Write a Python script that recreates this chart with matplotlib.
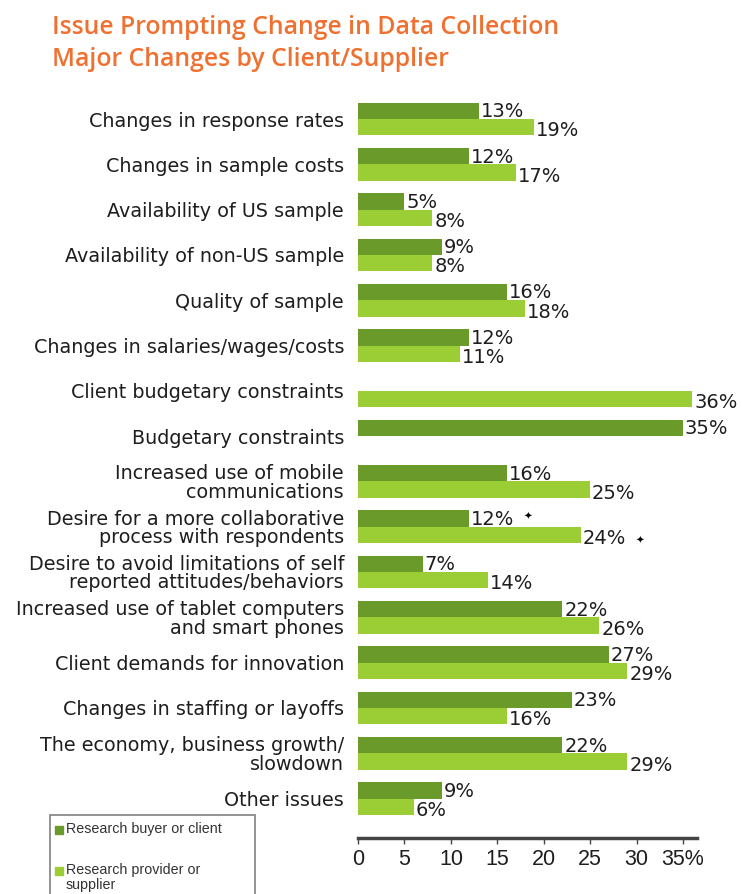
import numpy as np
import matplotlib
matplotlib.use("Agg")
import matplotlib.pyplot as plt
from matplotlib.patches import Rectangle

# data
categories = [
    "Changes in response rates",
    "Changes in sample costs",
    "Availability of US sample",
    "Availability of non-US sample",
    "Quality of sample",
    "Changes in salaries/wages/costs",
    "Client budgetary constraints",
    "Budgetary constraints",
    "Increased use of mobile\ncommunications",
    "Desire for a more collaborative\nprocess with respondents",
    "Desire to avoid limitations of self\nreported attitudes/behaviors",
    "Increased use of tablet computers\nand smart phones",
    "Client demands for innovation",
    "Changes in staffing or layoffs",
    "The economy, business growth/\nslowdown",
    "Other issues",
]
buyer = [13, 12, 5, 9, 16, 12, np.nan, 35, 16, 12, 7, 22, 27, 23, 22, 9]
provider = [19, 17, 8, 8, 18, 11, 36, np.nan, 25, 24, 14, 26, 29, 16, 29, 6]
starred = [9]  # rows with the little star after the value
xticks = [0, 5, 10, 15, 20, 25, 30, 35]
xtick_labels = ["0", "5", "10", "15", "20", "25", "30", "35%"]
legend_labels = ["Research buyer or client", "Research provider or\nsupplier"]

dark = "#6a9a2a"
light = "#9bcd35"
orange = "#f07030"
txt = "#1e1e1e"

plt.rcParams["font.family"] = ["DejaVu Sans"]

fig = plt.figure(figsize=(7.42, 8.94), dpi=100)
ax = fig.add_axes([358 / 742, 1 - 838 / 894, (697 - 358) / 742, (838 - 100) / 894])

y = np.arange(len(categories))
h = 0.36
ax.barh(y - h / 2, buyer, height=h, color=dark)
ax.barh(y + h / 2, provider, height=h, color=light)

for i in range(len(categories)):
    if not np.isnan(buyer[i]):
        ax.text(buyer[i] + 0.2, i - h / 2 + 0.02, f"{buyer[i]:.0f}%", va="center",
                ha="left", fontsize=14, color=txt)
    if not np.isnan(provider[i]):
        ax.text(provider[i] + 0.2, i + h / 2 + 0.08, f"{provider[i]:.0f}%", va="center",
                ha="left", fontsize=14, color=txt)
    if i in starred:
        ax.text(buyer[i] + 5.8, i - h / 2 - 0.05, "\u2726", va="center", ha="left",
                fontsize=7.5, color="black")
        ax.text(provider[i] + 5.9, i + h / 2 + 0.12, "\u2726", va="center", ha="left",
                fontsize=7.5, color="black")

ax.set_ylim(15.87, -0.42)
ax.set_xlim(0, 36.5)
ax.set_yticks(y)
ax.set_yticklabels(categories, fontsize=13.8, color=txt, ha="right",
                   multialignment="right", linespacing=0.95)
ax.tick_params(axis="y", length=0, pad=10)
ax.set_xticks(xticks)
ax.set_xticklabels(xtick_labels, fontsize=15.5, color=txt, family="Liberation Sans")
ax.tick_params(axis="x", length=4, width=1, color="#444444", pad=4)

for s in ["top", "right", "left"]:
    ax.spines[s].set_visible(False)
ax.spines["bottom"].set_linewidth(2.5)
ax.spines["bottom"].set_color("#444444")

fig.text(52 / 742, 1 - 28 / 894, "Issue Prompting Change in Data Collection",
         fontsize=17.8, color=orange, fontweight="semibold", family="Open Sans", va="center")
fig.text(52 / 742, 1 - 60 / 894, "Major Changes by Client/Supplier",
         fontsize=17.8, color=orange, fontweight="semibold", family="Open Sans", va="center")

# legend box, drawn by hand so it runs off the bottom edge like the original
fig.add_artist(Rectangle((50 / 742, -0.02), 205 / 742, 0.02 + (894 - 815) / 894,
                         transform=fig.transFigure, fill=False, edgecolor="#8a8a8a", lw=1.3))
for lab, col, ypx in zip(legend_labels, [dark, light], [830, 871]):
    fig.add_artist(Rectangle((55 / 742, 1 - (ypx + 4) / 894), 8 / 742, 8 / 894,
                             transform=fig.transFigure, color=col))
    fig.text(66 / 742, 1 - (ypx - 8) / 894, lab, fontsize=10.3, color="#333333",
             family="Liberation Sans", va="top", ha="left", linespacing=1.05)

fig.savefig("out.png", dpi=100)
